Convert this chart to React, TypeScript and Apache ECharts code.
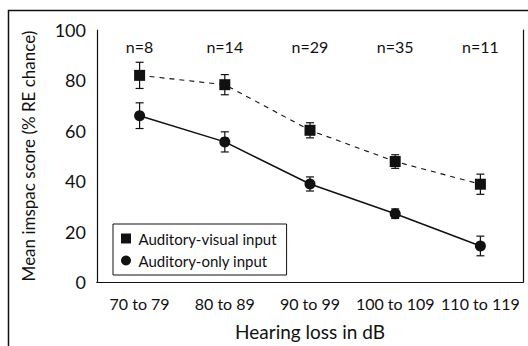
import React, { useEffect, useRef } from "react";
import * as echarts from "echarts";

const categories = ["70 to 79", "80 to 89", "90 to 99", "100 to 109", "110 to 119"];
const nLabels = ["n=8", "n=14", "n=29", "n=35", "n=11"];
const avMean = [82, 78.3, 60.2, 47.8, 38.8];
const avErr = [5.2, 4, 3, 2.7, 4];
const aoMean = [66, 55.6, 38.9, 27.1, 14.3];
const aoErr = [5.1, 4, 2.8, 1.9, 3.9];
const yTicks = [0, 20, 40, 60, 80, 100];

const FONT = "Lato, 'Open Sans', sans-serif";
const INK = "#111";

function errData(mean: number[], err: number[]) {
  return mean.map((m, i) => [i, m - err[i], m + err[i]]);
}

function errorBarRender(params: any, api: any) {
  const lo = api.coord([api.value(0), api.value(1)]);
  const hi = api.coord([api.value(0), api.value(2)]);
  const cap = 4;
  const style = { stroke: INK, lineWidth: 1.2 };
  return {
    type: "group",
    children: [
      { type: "line", shape: { x1: lo[0], y1: lo[1], x2: hi[0], y2: hi[1] }, style },
      { type: "line", shape: { x1: hi[0] - cap, y1: hi[1], x2: hi[0] + cap, y2: hi[1] }, style },
      { type: "line", shape: { x1: lo[0] - cap, y1: lo[1], x2: lo[0] + cap, y2: lo[1] }, style },
    ],
  };
}

export default function App() {
  const ref = useRef<HTMLDivElement>(null);
  useEffect(() => {
    if (!ref.current) return;
    const chart = echarts.init(ref.current, undefined, { renderer: "svg" });
    const axisLine = { show: true, lineStyle: { color: INK, width: 1.2 } };
    chart.setOption({
      animation: false,
      backgroundColor: "#fff",
      grid: { left: 97, right: 5, top: 30, bottom: 62 },
      graphic: [
        {
          type: "rect",
          silent: true,
          shape: { x: 8.5, y: 10.5, width: 700, height: 500 },
          style: { fill: "none", stroke: INK, lineWidth: 1.5 },
        },
      ],
      legend: {
        orient: "vertical",
        left: 113,
        top: 224,
        padding: [7, 10, 7, 8],
        itemGap: 7,
        itemWidth: 15,
        itemHeight: 10,
        borderColor: INK,
        borderWidth: 1,
        textStyle: { fontFamily: FONT, fontSize: 15, color: INK },
        data: [
          { name: "Auditory-visual input", icon: "path://M0,0H10V10H0Z" },
          { name: "Auditory-only input", icon: "circle" },
        ],
      },
      xAxis: [
        {
          type: "category",
          data: categories,
          position: "bottom",
          boundaryGap: true,
          axisLine,
          axisTick: { inside: true, length: 6, lineStyle: { color: INK } },
          axisLabel: { interval: 0, fontFamily: FONT, fontSize: 16, color: INK, margin: 13 },
          name: "Hearing loss in dB",
          nameLocation: "middle",
          nameGap: 40,
          nameTextStyle: { fontFamily: FONT, fontSize: 19, color: INK },
        },
        {
          type: "category",
          data: nLabels,
          position: "top",
          boundaryGap: true,
          axisLine,
          axisTick: { inside: true, length: 5, lineStyle: { color: INK } },
          axisLabel: { interval: 0, inside: true, fontFamily: FONT, fontSize: 16, color: INK, margin: 8 },
        },
      ],
      yAxis: [
        {
          type: "value",
          min: 0,
          max: 100,
          interval: 10,
          position: "left",
          axisLine,
          splitLine: { show: false },
          axisTick: { inside: true, length: 6, lineStyle: { color: INK } },
          axisLabel: {
            fontFamily: FONT,
            fontSize: 18,
            color: INK,
            margin: 11,
            formatter: (v: number) => (yTicks.indexOf(v) >= 0 ? String(v) : ""),
          },
          name: "Mean imspac score (% RE chance)",
          nameLocation: "middle",
          nameGap: 60,
          nameTextStyle: { fontFamily: FONT, fontSize: 17, color: INK },
        },
        {
          type: "value",
          min: 0,
          max: 100,
          interval: 10,
          position: "right",
          axisLine,
          splitLine: { show: false },
          axisTick: { inside: true, length: 5, lineStyle: { color: INK } },
          axisLabel: { show: false },
        },
      ],
      series: [
        {
          name: "av-err",
          type: "custom",
          renderItem: errorBarRender,
          data: errData(avMean, avErr),
          encode: { x: 0, y: [1, 2] },
          z: 1,
          silent: true,
        },
        {
          name: "ao-err",
          type: "custom",
          renderItem: errorBarRender,
          data: errData(aoMean, aoErr),
          encode: { x: 0, y: [1, 2] },
          z: 1,
          silent: true,
        },
        {
          name: "Auditory-visual input",
          type: "line",
          data: avMean,
          symbol: "rect",
          symbolSize: 11,
          itemStyle: { color: INK },
          lineStyle: { color: INK, width: 1.1, type: [5, 5] },
          z: 3,
        },
        {
          name: "Auditory-only input",
          type: "line",
          data: aoMean,
          symbol: "circle",
          symbolSize: 11,
          itemStyle: { color: INK },
          lineStyle: { color: INK, width: 1.5 },
          z: 3,
        },
      ],
    });
    return () => chart.dispose();
  }, []);
  return (
    <div
      ref={ref}
      style={{ position: "fixed", left: 0, top: 0, width: 528, height: 346 }}
    />
  );
}
